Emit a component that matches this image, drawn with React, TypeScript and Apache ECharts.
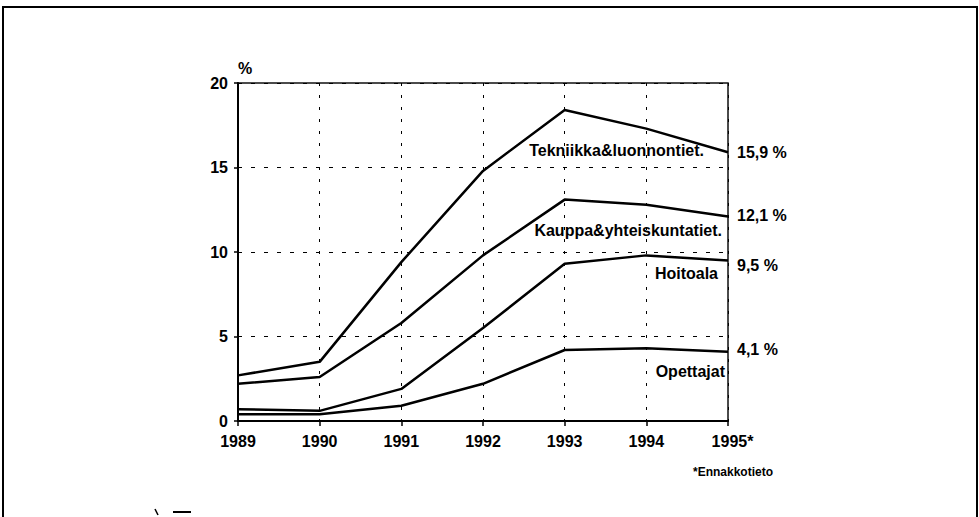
import React, { useEffect, useRef } from 'react';
import * as echarts from 'echarts';

const years = ['1989', '1990', '1991', '1992', '1993', '1994', '1995*'];
const tekniikka = [2.7, 3.5, 9.4, 14.8, 18.4, 17.3, 15.9];
const kauppa = [2.2, 2.6, 5.8, 9.8, 13.1, 12.8, 12.1];
const hoitoala = [0.7, 0.6, 1.9, 5.5, 9.3, 9.8, 9.5];
const opettajat = [0.4, 0.4, 0.9, 2.2, 4.2, 4.3, 4.1];
const seriesNames = ['Tekniikka&luonnontiet.', 'Kauppa&yhteiskuntatiet.', 'Hoitoala', 'Opettajat'];
const footnote = '*Ennakkotieto';

const FONT = '"Liberation Sans", Arial, sans-serif';

export default function App() {
  const ref = useRef<HTMLDivElement>(null);
  useEffect(() => {
    const chart = echarts.init(ref.current as HTMLDivElement, null, { renderer: 'svg' });
    const defs = [
      { name: seriesNames[0], data: tekniikka, labelY: 16.0, labelDx: -24, endDy: 0 },
      { name: seriesNames[1], data: kauppa, labelY: 11.3, labelDx: -6, endDy: -1 },
      { name: seriesNames[2], data: hoitoala, labelY: 8.75, labelDx: -10, endDy: 5 },
      { name: seriesNames[3], data: opettajat, labelY: 2.9, labelDx: -3, endDy: -2 },
    ];
    const txt = { fontFamily: FONT, fontWeight: 'bold' as const, color: '#000' };
    chart.setOption({
      animation: false,
      backgroundColor: '#fff',
      grid: { left: 238, right: 251, top: 83, bottom: 96, show: true, borderColor: '#111', borderWidth: 1.5 },
      xAxis: {
        type: 'category',
        boundaryGap: false,
        data: years,
        axisLine: { lineStyle: { color: '#000', width: 2 } },
        axisTick: { show: true, interval: 0, length: 5, lineStyle: { color: '#000', width: 1.5 } },
        axisLabel: {
          ...txt,
          fontSize: 16,
          margin: 12,
          interval: 0,
          formatter: (v: string) => (v.endsWith('*') ? '{sp|}' + v : v),
          rich: { sp: { width: 9 } },
        },
        splitLine: { show: true, interval: 0, lineStyle: { color: '#000', width: 1, type: [3, 9] } },
      },
      yAxis: {
        type: 'value',
        min: 0,
        max: 20,
        interval: 5,
        name: '%',
        nameLocation: 'end',
        nameGap: 7,
        nameTextStyle: { ...txt, fontSize: 16, align: 'left', verticalAlign: 'bottom' },
        axisLine: { show: true, lineStyle: { color: '#000', width: 2 } },
        axisTick: { show: true, length: 4, lineStyle: { color: '#000', width: 1.5 } },
        axisLabel: { ...txt, fontSize: 16, margin: 10 },
        splitLine: { show: true, lineStyle: { color: '#000', width: 1, type: [4, 9] } },
      },
      series: defs.map((d) => ({
        type: 'line',
        name: d.name,
        data: d.data,
        symbol: 'none',
        lineStyle: { color: '#000', width: 2.5 },
        endLabel: {
          show: true,
          distance: 9,
          offset: [0, d.endDy],
          ...txt,
          fontSize: 16,
          formatter: (p: any) => String(p.value).replace('.', ',') + ' %',
        },
      })),
    });
    const labels = defs.map((d) => {
      const pt = chart.convertToPixel({ gridIndex: 0 }, [years.length - 1, d.labelY]) as number[];
      return {
        type: 'text',
        x: pt[0] + d.labelDx,
        y: pt[1],
        style: {
          text: d.name,
          fill: '#000',
          font: `bold 16px ${FONT}`,
          align: 'right',
          textAlign: 'right',
          verticalAlign: 'middle',
          textVerticalAlign: 'middle',
        },
      };
    });
    const endPt = chart.convertToPixel({ gridIndex: 0 }, [years.length - 1, 0]) as number[];
    chart.setOption({
      graphic: [
        {
          type: 'rect',
          shape: { x: 3, y: 7, width: 974, height: 530 },
          style: { fill: 'none', stroke: '#000', lineWidth: 2 },
          silent: true,
        },
        { type: 'line', shape: { x1: 155, y1: 509, x2: 158, y2: 515 }, style: { stroke: '#000', lineWidth: 1.5 } },
        { type: 'line', shape: { x1: 173, y1: 512, x2: 191, y2: 512 }, style: { stroke: '#000', lineWidth: 2 } },
        {
          type: 'text',
          x: endPt[0] + 5,
          y: 472,
          style: {
            text: footnote,
            fill: '#000',
            font: `bold 12px ${FONT}`,
            align: 'center',
            textAlign: 'center',
            verticalAlign: 'middle',
            textVerticalAlign: 'middle',
          },
        },
        ...labels,
      ],
    });
    return () => chart.dispose();
  }, []);
  return <div ref={ref} style={{ position: 'absolute', left: 0, top: 0, width: 979, height: 517 }} />;
}
